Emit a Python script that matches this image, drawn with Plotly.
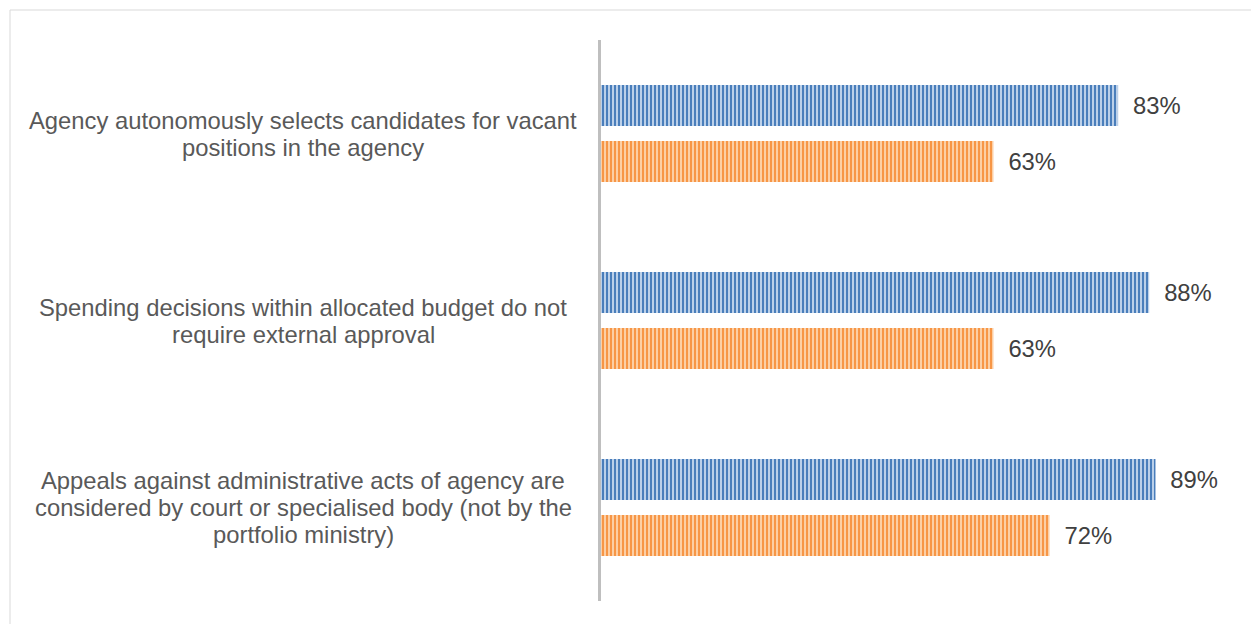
import plotly.graph_objects as go

# Survey items (top to bottom), each split into its wrapped lines
category_lines = [
    ["Agency autonomously selects candidates for vacant",
     "positions in the agency"],
    ["Spending decisions within allocated budget do not",
     "require external approval"],
    ["Appeals against administrative acts of agency are",
     "considered by court or specialised body (not by the",
     "portfolio ministry)"],
]
categories = [" ".join(lines) for lines in category_lines]

# Share of agencies for each series
series_a = [0.83, 0.88, 0.89]
series_b = [0.63, 0.63, 0.72]

W, H = 1251, 624
ML, MR, MT, MB = 601, 27, 40, 23
PW, PH = W - ML - MR, H - MT - MB

TEXT = "#404040"
LABEL = "#595959"
FONT = "Liberation Sans, Arial, sans-serif"
FS = 23.8
LINE_H = 27
LABEL_CENTER_PX = 303  # horizontal centre of the category label column

fig = go.Figure()
fig.add_trace(go.Bar(
    y=categories, x=series_a, orientation="h", name="Series A",
    marker=dict(color="#4f81bd", line=dict(width=0),
                pattern=dict(shape="|", size=4, solidity=0.55,
                             fgcolor="#4a7ebb", bgcolor="#c8d9ef", fillmode="replace")),
    texttemplate="\u2002%{x:.0%}", textposition="outside",
    textfont=dict(size=FS, color=TEXT, family=FONT), cliponaxis=False,
))
fig.add_trace(go.Bar(
    y=categories, x=series_b, orientation="h", name="Series B",
    marker=dict(color="#f79646", line=dict(width=0),
                pattern=dict(shape="|", size=4, solidity=0.55,
                             fgcolor="#f79646", bgcolor="#fdd5b0", fillmode="replace")),
    texttemplate="\u2002%{x:.0%}", textposition="outside",
    textfont=dict(size=FS, color=TEXT, family=FONT), cliponaxis=False,
))

# Category labels: each wrapped line centred in the label column
for cat, lines in zip(categories, category_lines):
    n = len(lines)
    for i, line in enumerate(lines):
        fig.add_annotation(
            x=(LABEL_CENTER_PX - ML) / PW, xref="paper", y=cat, yref="y",
            yshift=((n - 1) / 2 - i) * LINE_H,
            text=line, showarrow=False, xanchor="center", yanchor="middle",
            font=dict(size=FS, color=LABEL, family=FONT),
        )

# Light outer frame
fig.add_shape(
    type="rect", xref="paper", yref="paper",
    x0=(10 - ML) / PW, x1=(W + 20 - ML) / PW,
    y0=-(MB + 20) / PH, y1=1 + (MT - 10) / PH,
    line=dict(color="#d9d9d9", width=1), fillcolor="rgba(0,0,0,0)", layer="below",
)

fig.update_layout(
    width=W, height=H,
    margin=dict(l=ML, r=MR, t=MT, b=MB),
    paper_bgcolor="white", plot_bgcolor="white",
    barmode="group", bargap=0.40, bargroupgap=0.27,
    showlegend=False,
    font=dict(family=FONT, color=TEXT),
    xaxis=dict(range=[0, 1.0], visible=False, fixedrange=True),
    yaxis=dict(autorange="reversed", showticklabels=False, ticks="",
               showgrid=False, zeroline=False,
               showline=True, linecolor="#bfbfbf", linewidth=3),
)

fig.write_html("out.html")
